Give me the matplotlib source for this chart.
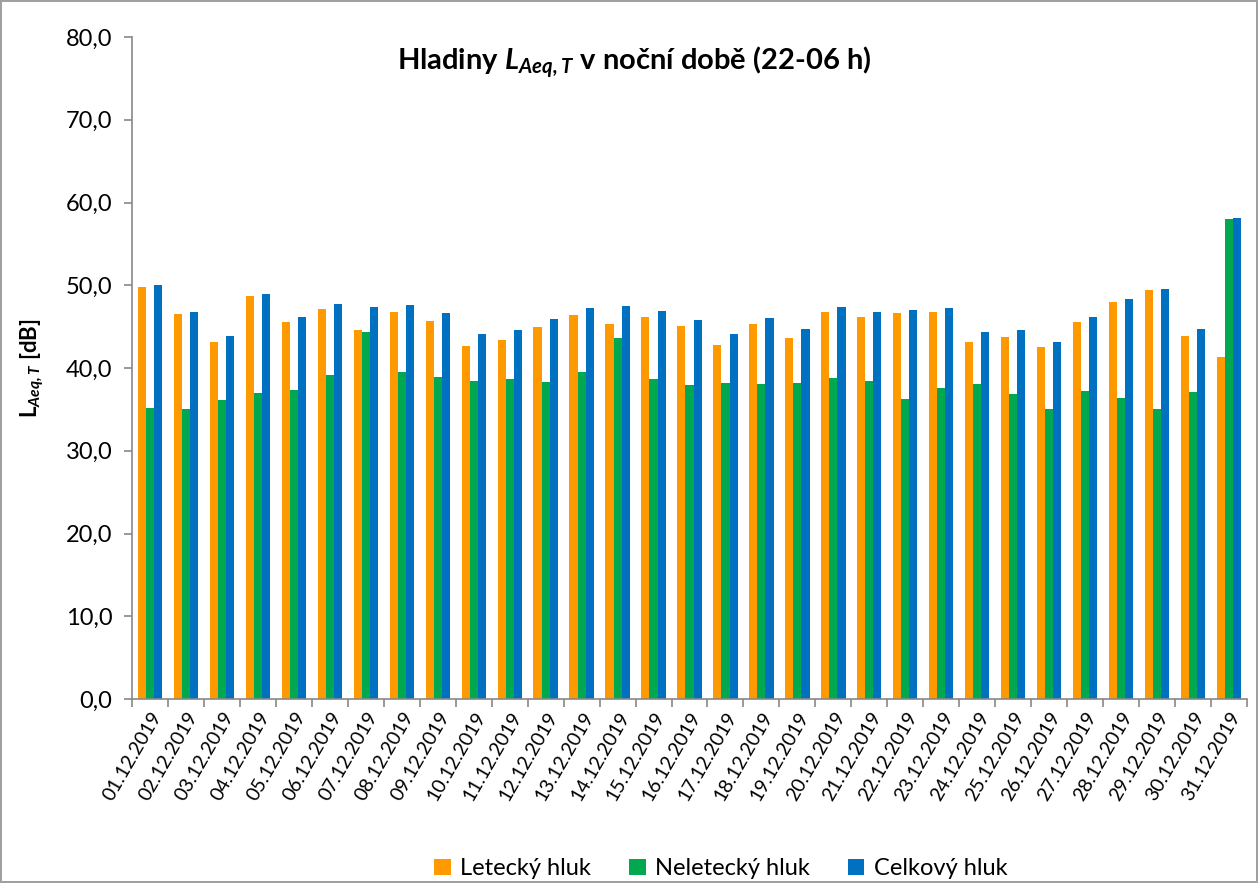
import matplotlib
matplotlib.use("Agg")
import matplotlib.pyplot as plt
import numpy as np

dates = [f"{d:02d}.12.2019" for d in range(1, 32)]
letecky = [49.8, 46.5, 43.1, 48.7, 45.6, 47.1, 44.6, 46.8, 45.7, 42.7, 43.4, 45.0, 46.4, 45.3, 46.2, 45.1,
           42.8, 45.3, 43.6, 46.8, 46.2, 46.6, 46.8, 43.1, 43.8, 42.5, 45.6, 48.0, 49.4, 43.9, 41.3]
neletecky = [35.2, 35.1, 36.1, 37.0, 37.4, 39.1, 44.3, 39.5, 38.9, 38.4, 38.7, 38.3, 39.5, 43.6, 38.7, 38.0,
             38.2, 38.1, 38.2, 38.8, 38.4, 36.2, 37.6, 38.1, 36.9, 35.1, 37.2, 36.4, 35.1, 37.1, 58.0]
celkovy = [50.0, 46.8, 43.9, 49.0, 46.2, 47.7, 47.4, 47.6, 46.6, 44.1, 44.6, 45.9, 47.2, 47.5, 46.9, 45.8,
           44.1, 46.0, 44.7, 47.4, 46.8, 47.0, 47.3, 44.3, 44.6, 43.2, 46.2, 48.3, 49.5, 44.7, 58.1]
series_names = ["Letecký hluk", "Neletecký hluk", "Celkový hluk"]
yticks = [0, 10, 20, 30, 40, 50, 60, 70, 80]

colors = ["#FF9900", "#00A84F", "#0070C0"]

plt.rcParams['font.family'] = ['Lato', 'DejaVu Sans']
plt.rcParams['mathtext.fontset'] = 'custom'
plt.rcParams['mathtext.rm'] = 'Lato'
plt.rcParams['mathtext.it'] = 'Lato:italic'
plt.rcParams['mathtext.bf'] = 'Lato:bold'
try:
    plt.rcParams['mathtext.bfit'] = 'Lato:italic:bold'
except KeyError:
    pass

fig = plt.figure(figsize=(12.58, 8.83), dpi=100)
fig.patch.set_edgecolor("#A0A0A0")
fig.patch.set_linewidth(1.5)
ax = fig.add_axes([132/1258, 1 - 699/883, (1247-132)/1258, (699-37)/883])

x = np.arange(len(dates))
w = 0.225
for i, (vals, c, name) in enumerate(zip([letecky, neletecky, celkovy], colors, series_names)):
    ax.bar(x + (i - 1) * w, vals, width=w, color=c, label=name, edgecolor="none")

ax.set_xlim(-0.5, len(dates) - 0.5)
ax.set_ylim(0, 80)
ax.set_yticks(yticks)
ax.set_yticklabels([f"{v:.1f}".replace(".", ",") for v in yticks], fontsize=17)
ax.set_xticks(x)
ax.set_xticklabels(dates, rotation=60, ha="right", rotation_mode="anchor", fontsize=14)
ax.tick_params(axis="x", length=0, pad=7)
ax.set_xticks(np.arange(-0.5, len(dates), 1), minor=True)
ax.tick_params(axis="x", which="minor", length=6, color="#888888", width=1.2)
ax.tick_params(axis="y", length=6, color="#888888", width=1.2, pad=8)
for s in ["top", "right"]:
    ax.spines[s].set_visible(False)
for s in ["left", "bottom"]:
    ax.spines[s].set_color("#888888")
    ax.spines[s].set_linewidth(1.2)

ax.set_ylabel(r"$\mathbf{L}_{\mathbfit{Aeq,T}}$" + " [dB]", fontsize=16, fontweight="bold", labelpad=14)
ax.text(0.45, 0.99, r"Hladiny $\mathbfit{L}_{\mathbfit{Aeq,T}}$ v noční době (22-06 h)",
        transform=ax.transAxes, ha="center", va="top", fontsize=21, fontweight="bold")

fig.legend(loc="lower center", bbox_to_anchor=(0.573, -0.02), ncol=3, frameon=False, fontsize=17,
           handlelength=0.7, handleheight=0.7, columnspacing=1.6, handletextpad=0.4)

fig.savefig("out.png", dpi=100)
